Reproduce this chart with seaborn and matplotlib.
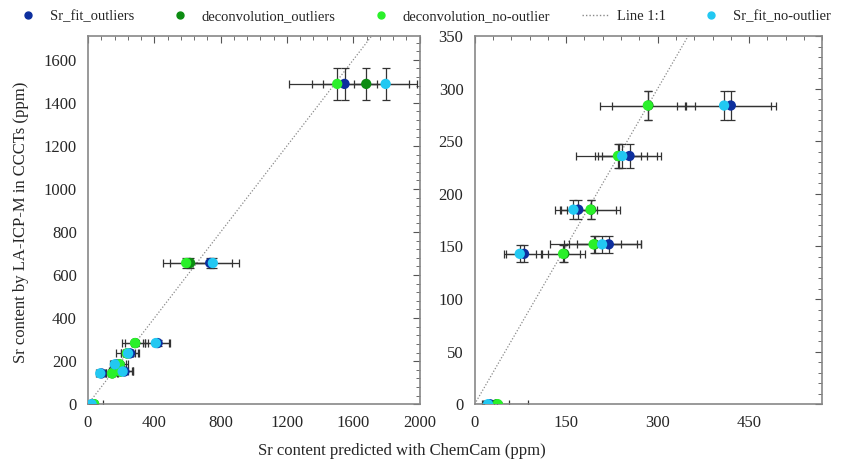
import numpy as np
import pandas as pd
import matplotlib
matplotlib.use("Agg")
import matplotlib.pyplot as plt
from matplotlib.ticker import MultipleLocator, AutoMinorLocator
from matplotlib.lines import Line2D
import seaborn as sns

# LA-ICP-MS reference values (y) and their errors
la_icp = [0, 143, 152, 185, 236, 284, 656, 1488]
la_err = [2, 8, 8, 9, 11, 14, 25, 75]

# ChemCam predictions per method (x) and errors
sr_fit_out = [25, 81, 220, 170, 254, 420, 737, 1547]
sr_fit_out_err = [12, 29, 52, 30, 45, 74, 130, 195]
deconv_out = [36, 147, 197, 191, 236, 285, 616, 1678]
deconv_out_err = [20, 26, 43, 40, 69, 60, 120, 260]
deconv_noout = [38, 145, 195, 190, 235, 284, 592, 1503]
deconv_noout_err = [50, 36, 71, 49, 37, 78, 140, 290]
sr_fit_noout = [22, 74, 209, 162, 242, 409, 753, 1795]
sr_fit_noout_err = [10, 26, 63, 31, 40, 77, 155, 190]

series = ["Sr_fit_outliers", "deconvolution_outliers",
          "deconvolution_no-outlier", "Sr_fit_no-outlier"]
colors = ["#0d2f9e", "#0c8c12", "#2af02a", "#22c8f2"]

rows = []
for name, xs, xe in zip(series,
                        [sr_fit_out, deconv_out, deconv_noout, sr_fit_noout],
                        [sr_fit_out_err, deconv_out_err, deconv_noout_err, sr_fit_noout_err]):
    for x, e, y, ye in zip(xs, xe, la_icp, la_err):
        rows.append({"method": name, "chemcam": x, "xerr": e, "laicp": y, "yerr": ye})
df = pd.DataFrame(rows)

sns.set_style("white")
plt.rcParams["font.family"] = ["Liberation Serif", "DejaVu Serif"]

fig = plt.figure(figsize=(8.46, 4.63), dpi=100)
ax1 = fig.add_axes([0.104, 0.127, 0.392, 0.795])
ax2 = fig.add_axes([0.561, 0.127, 0.411, 0.795])

draw_order = ["Sr_fit_no-outlier", "deconvolution_outliers",
              "deconvolution_no-outlier", "Sr_fit_outliers"]
pal = dict(zip(series, colors))

for ax, xmax, ymax, xstep, ystep in [(ax1, 2000, 1710, 400, 200),
                                     (ax2, 570, 350, 150, 50)]:
    ax.plot([0, 2000], [0, 2000], ls=(0, (1, 1.5)), color="#8a8a8a", lw=0.9, zorder=1)
    for name in draw_order:
        d = df[df["method"] == name]
        ax.errorbar(d["chemcam"], d["laicp"], xerr=d["xerr"], yerr=d["yerr"],
                    fmt="none", ecolor="#333333", elinewidth=0.9, capsize=3,
                    capthick=0.9, zorder=2)
    sns.scatterplot(data=df, x="chemcam", y="laicp", hue="method",
                    hue_order=draw_order, palette=pal, s=55, edgecolor="none",
                    legend=False, ax=ax, zorder=3)
    ax.set_xlim(0, xmax)
    ax.set_ylim(0, ymax)
    ax.xaxis.set_major_locator(MultipleLocator(xstep))
    ax.yaxis.set_major_locator(MultipleLocator(ystep))
    ax.xaxis.set_minor_locator(AutoMinorLocator(5))
    ax.yaxis.set_minor_locator(AutoMinorLocator(5))
    ax.tick_params(which="both", direction="in", top=True, right=True,
                   color="#555555", labelsize=12, pad=8)
    ax.tick_params(which="major", length=5)
    ax.tick_params(which="minor", length=3)
    ax.set_xlabel("")
    ax.set_ylabel("")
    for sp in ax.spines.values():
        sp.set_color("#888888")
        sp.set_linewidth(1.2)

fig.text(0.025, 0.52, "Sr content by LA-ICP-M in CCCTs (ppm)", rotation=90,
         ha="center", va="center", fontsize=12)
fig.text(0.475, 0.025, "Sr content predicted with ChemCam (ppm)",
         ha="center", va="center", fontsize=12)

handles = [
    Line2D([], [], ls="none", marker="o", ms=5, color=colors[0], label="Sr_fit_outliers"),
    Line2D([], [], ls="none", marker="o", ms=5, color=colors[1], label="deconvolution_outliers"),
    Line2D([], [], ls="none", marker="o", ms=5, color=colors[2], label="deconvolution_no-outlier"),
    Line2D([], [], ls=(0, (1, 1.5)), color="#8a8a8a", lw=1, label="Line 1:1"),
    Line2D([], [], ls="none", marker="o", ms=5, color=colors[3], label="Sr_fit_no-outlier"),
]
fig.legend(handles=handles, loc="center", bbox_to_anchor=(0.5, 0.965), ncol=5,
           frameon=False, fontsize=10.5, handlelength=1.8, columnspacing=2.2,
           handletextpad=0.6)

fig.savefig("out.png", dpi=100)
